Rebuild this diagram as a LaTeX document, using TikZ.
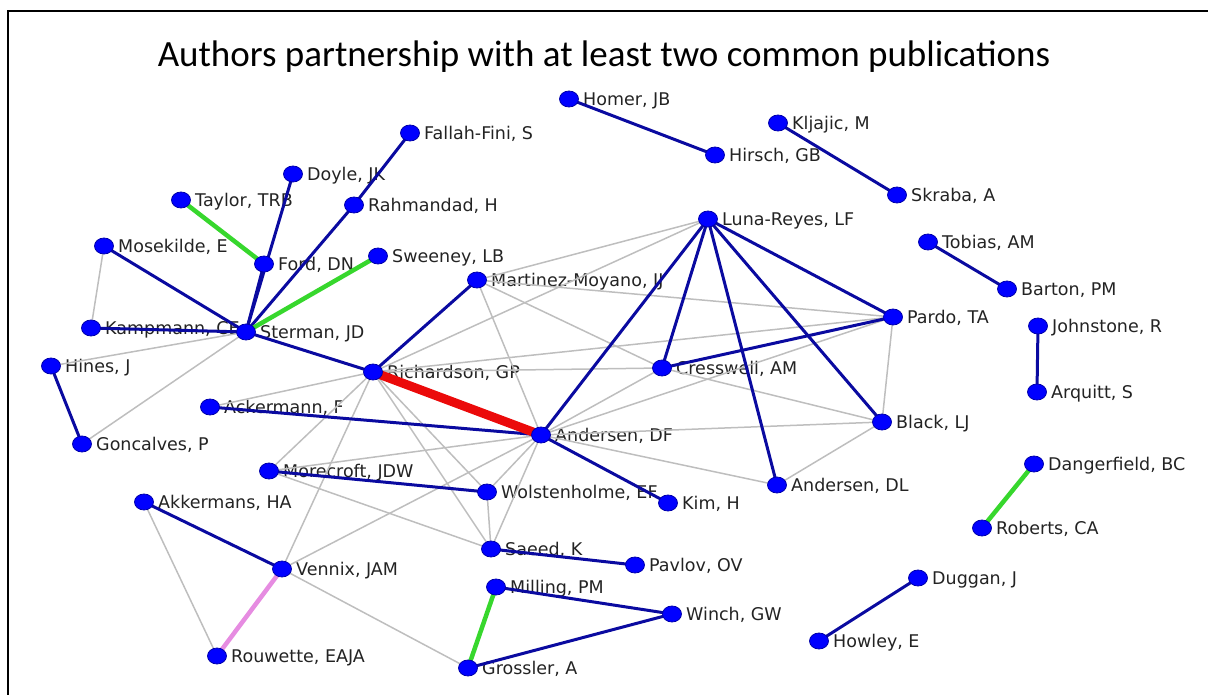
\documentclass[tikz,border=0pt]{standalone}
\usepackage{fontspec}
\setmainfont{DejaVu Sans}
\newfontfamily\titlefont{Carlito}
\usetikzlibrary{shapes.geometric}
\pgfdeclarelayer{lab}
\pgfdeclarelayer{edge}
\pgfsetlayers{lab,edge,main}
\definecolor{dotblue}{RGB}{0,0,255}
\definecolor{dotrim}{RGB}{0,0,170}
\definecolor{navyedge}{RGB}{10,10,160}
\definecolor{greenedge}{RGB}{55,215,45}
\definecolor{rededge}{RGB}{235,10,10}
\definecolor{pinkedge}{RGB}{230,140,225}
\definecolor{greyedge}{RGB}{190,190,190}
\definecolor{labtext}{RGB}{35,35,35}
\tikzset{
  dot/.style={ellipse, fill=dotblue, draw=dotrim, line width=0.8pt, minimum width=19pt, minimum height=16pt, inner sep=0pt},
  lbl/.style={anchor=base west, inner sep=0pt, text=labtext, font=\fontsize{17.5}{19}\selectfont},
  strong/.style={draw=navyedge, line width=3pt},
  weak/.style={draw=greyedge, line width=1.5pt},
  gedge/.style={draw=greenedge, line width=4.5pt},
  redge/.style={draw=rededge, line width=9pt},
  pedge/.style={draw=pinkedge, line width=4.5pt},
  frame/.style={draw=black, line width=1.6pt},
  titletext/.style={anchor=base, inner sep=0pt, font=\titlefont\fontsize{37}{42}\selectfont}
}
\newcommand\person[4]{%
  \node[dot] (#1) at (#2,#3) {};
  \begin{pgfonlayer}{lab}
    \node[lbl] (#1-t) at ([xshift=14pt,yshift=-6.5pt]#1.center) {#4};
  \end{pgfonlayer}}
\begin{document}
\begin{tikzpicture}[x=1pt,y=-1pt]
\useasboundingbox (0,0) rectangle (1208,695);
\draw[frame] (8,695) -- (8,11) -- (1208,11);
\node[titletext] (title) at (604,67) {Authors partnership with at least two common publications};

\person{homer}{569}{99}{Homer, JB}
\person{hirsch}{715}{155}{Hirsch, GB}
\person{kljajic}{778}{123}{Kljajic, M}
\person{skraba}{897}{195}{Skraba, A}
\person{fallah}{410}{133}{Fallah-Fini, S}
\person{doyle}{293}{174}{Doyle, JK}
\person{taylor}{181}{200}{Taylor, TRB}
\person{rahmandad}{354}{205}{Rahmandad, H}
\person{luna}{708}{219}{Luna-Reyes, LF}
\person{tobias}{928}{242}{Tobias, AM}
\person{mosekilde}{104}{246}{Mosekilde, E}
\person{ford}{264}{264}{Ford, DN}
\person{sweeney}{378}{256}{Sweeney, LB}
\person{barton}{1007}{289}{Barton, PM}
\person{martinez}{477}{280}{Martinez-Moyano, IJ}
\person{pardo}{893}{317}{Pardo, TA}
\person{johnstone}{1038}{326}{Johnstone, R}
\person{kampmann}{91}{328}{Kampmann, CE}
\person{sterman}{246}{332}{Sterman, JD}
\person{hines}{51}{366}{Hines, J}
\person{richardson}{373}{372}{Richardson, GP}
\person{cresswell}{662}{368}{Cresswell, AM}
\person{arquitt}{1037}{392}{Arquitt, S}
\person{ackermann}{210}{407}{Ackermann, F}
\person{black}{882}{422}{Black, LJ}
\person{andersendf}{541}{435}{Andersen, DF}
\person{goncalves}{82}{444}{Goncalves, P}
\person{morecroft}{269}{471}{Morecroft, JDW}
\person{dangerfield}{1034}{464}{Dangerfield, BC}
\person{andersendl}{777}{485}{Andersen, DL}
\person{wolstenholme}{487}{492}{Wolstenholme, EF}
\person{kim}{668}{503}{Kim, H}
\person{akkermans}{144}{502}{Akkermans, HA}
\person{roberts}{982}{528}{Roberts, CA}
\person{saeed}{491}{549}{Saeed, K}
\person{pavlov}{635}{565}{Pavlov, OV}
\person{vennix}{282}{569}{Vennix, JAM}
\person{milling}{496}{587}{Milling, PM}
\person{duggan}{918}{578}{Duggan, J}
\person{winch}{672}{614}{Winch, GW}
\person{howley}{819}{641}{Howley, E}
\person{rouwette}{217}{656}{Rouwette, EAJA}
\person{grossler}{468}{668}{Grossler, A}

\begin{pgfonlayer}{edge}
% weak (grey) ties
\foreach \a/\b in {mosekilde/kampmann, sterman/hines, sterman/goncalves,
  richardson/luna, richardson/cresswell, richardson/pardo, richardson/ackermann,
  richardson/morecroft, richardson/vennix, richardson/saeed, richardson/wolstenholme,
  martinez/luna, martinez/pardo, martinez/cresswell, martinez/andersendf,
  andersendf/morecroft, andersendf/vennix, andersendf/wolstenholme, andersendf/saeed,
  andersendf/cresswell, andersendf/pardo, andersendf/black, andersendf/andersendl,
  cresswell/black, pardo/black, black/andersendl, wolstenholme/saeed,
  morecroft/saeed, vennix/grossler, akkermans/rouwette}
  \draw[weak] (\a.center) -- (\b.center);
% strong (navy) ties
\foreach \a/\b in {homer/hirsch, kljajic/skraba, tobias/barton, johnstone/arquitt,
  duggan/howley, fallah/rahmandad, rahmandad/sterman, doyle/sterman, ford/sterman,
  mosekilde/sterman, kampmann/sterman, sterman/richardson, richardson/martinez,
  ackermann/andersendf, andersendf/luna, andersendf/kim, morecroft/wolstenholme,
  saeed/pavlov, milling/winch, winch/grossler, akkermans/vennix, hines/goncalves,
  luna/cresswell, luna/andersendl, luna/black, luna/pardo, cresswell/pardo}
  \draw[strong] (\a.center) -- (\b.center);
\foreach \a/\b in {taylor/ford, sterman/sweeney, dangerfield/roberts, milling/grossler}
  \draw[gedge] (\a.center) -- (\b.center);
\draw[redge] (richardson.center) -- (andersendf.center);
\draw[pedge] (vennix.center) -- (rouwette.center);
\end{pgfonlayer}
\end{tikzpicture}
\end{document}
